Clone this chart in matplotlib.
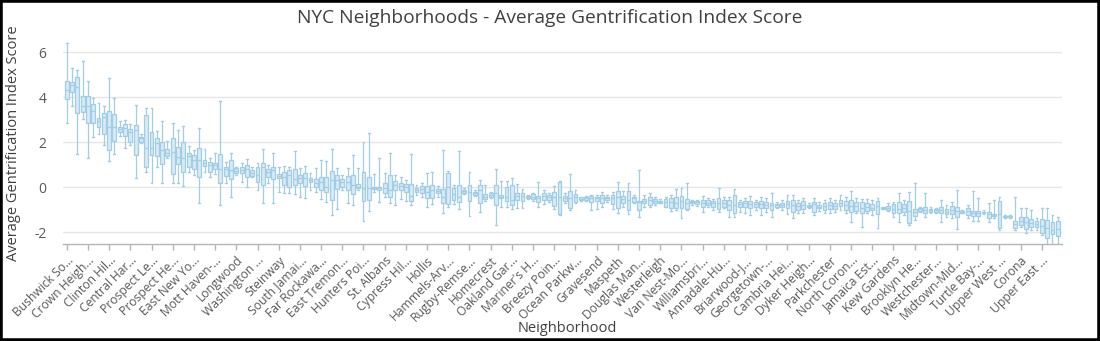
import matplotlib
matplotlib.use("Agg")
import matplotlib.pyplot as plt
from matplotlib.patches import Rectangle

plt.rcParams['font.family'] = ['Open Sans', 'DejaVu Sans']

# ---------------- data ----------------
tick_labels = ["Bushwick So...", "Crown Heigh...", "Clinton Hil...", "Central Har...",
               "Prospect Le...", "Prospect He...", "East New Yo...", "Mott Haven-...",
               "Longwood", "Washington ...", "Steinway", "South Jamai...", "Far Rockawa...",
               "East Tremon...", "Hunters Poi...", "St. Albans", "Cypress Hil...", "Hollis",
               "Hammels-Arv...", "Rugby-Remse...", "Homecrest", "Oakland Gar...",
               "Mariner's H...", "Breezy Poin...", "Ocean Parkw...", "Gravesend", "Maspeth",
               "Douglas Man...", "Westerleigh", "Van Nest-Mo...", "Williamsbri...",
               "Annadale-Hu...", "Briarwood-J...", "Georgetown-...", "Cambria Hei...",
               "Dyker Heigh...", "Parkchester", "North Coron...", "Jamaica Est...",
               "Kew Gardens", "Brooklyn He...", "Westchester...", "Midtown-Mid...",
               "Turtle Bay-...", "Upper West ...", "Corona", "Upper East ..."]

whisker_low = [
    2.87, 3.61, 1.47, 3.02, 1.32, 2.25, 2.37, 1.88, 1.17, 1.47,
    2.28, 1.73, 1.88, 0.40, 1.96, 0.70, 0.18, 0.89, 0.21, 1.30,
    0.21, 0.21, 0.06, 0.70, 0.55, -0.68, 0.70, 0.47, 0.59, -0.79,
    0.21, -0.41, 0.55, 0.25, 0.03, 0.47, -0.12, -0.68, 0.18, -0.71,
    -0.19, -0.27, -0.24, -0.30, -0.41, -0.49, -0.12, -0.19, -0.53, -0.64,
    -1.23, -0.98, -0.12, -0.68, -0.79, -0.12, -1.50, -1.04, -0.19, -0.64,
    -0.44, -0.71, -0.79, -0.53, -0.59, -0.79, -0.34, -0.44, -0.89, -0.74,
    -0.41, -1.16, -0.86, -0.74, -0.96, -0.30, -1.27, -0.39, -1.08, -0.59,
    -0.49, -1.67, -0.86, -0.86, -0.98, -0.93, -0.93, -0.53, -0.59, -0.86,
    -0.74, -0.64, -0.98, -1.25, -0.71, -1.01, -0.71, -0.59, -0.59, -1.01,
    -0.98, -0.86, -0.64, -0.98, -1.16, -0.86, -1.19, -0.68, -1.30, -0.86,
    -0.89, -0.79, -0.71, -0.89, -1.04, -1.01, -1.38, -1.01, -0.79, -0.83,
    -1.08, -0.86, -1.01, -1.08, -0.93, -1.33, -1.33, -1.08, -1.16, -1.23,
    -1.01, -1.23, -1.08, -1.33, -0.93, -1.01, -1.19, -1.38, -1.13, -1.16,
    -0.93, -1.23, -1.04, -1.16, -1.13, -1.10, -1.01, -1.16, -1.53, -1.16,
    -1.75, -1.16, -1.23, -1.82, -0.98, -1.05, -1.30, -1.53, -1.23, -1.67,
    -1.45, -1.08, -1.30, -1.16, -1.13, -1.53, -1.30, -1.38, -1.87, -1.16,
    -1.38, -1.48, -1.50, -1.20, -1.53, -1.38, -1.90, -1.35, -1.35, -1.90,
    -1.78, -2.01, -1.90, -1.90, -2.12, -2.52, -2.56, -2.56]

q1 = [
    3.91, 4.22, 3.32, 3.36, 2.87, 2.87, 2.70, 2.36, 1.66, 2.06,
    2.47, 2.28, 2.03, 1.44, 2.03, 0.89, 1.44, 1.39, 1.02, 1.39,
    0.59, 1.02, 0.70, 0.92, 0.80, 0.47, 0.95, 0.70, 0.80, 0.18,
    0.50, 0.36, 0.62, 0.62, 0.47, 0.50, 0.25, 0.10, 0.44, 0.36,
    0.40, 0.10, 0.03, 0.10, 0.21, 0.07, 0.25, 0.00, -0.12, -0.19,
    -0.56, -0.09, 0.03, -0.12, -0.30, -0.04, -0.59, -0.56, -0.09, -0.12,
    -0.27, -0.44, -0.12, -0.12, -0.19, -0.59, -0.19, -0.27, -0.49, -0.49,
    -0.27, -0.68, -0.76, -0.56, -0.64, -0.24, -0.59, -0.34, -0.68, -0.53,
    -0.41, -0.79, -0.49, -0.59, -0.79, -0.56, -0.59, -0.49, -0.53, -0.64,
    -0.56, -0.56, -0.83, -1.20, -0.59, -0.93, -0.64, -0.56, -0.56, -0.64,
    -0.59, -0.68, -0.56, -0.74, -0.93, -0.71, -1.01, -0.64, -1.01, -0.71,
    -0.79, -0.68, -0.68, -0.86, -0.93, -0.93, -0.93, -0.98, -0.71, -0.74,
    -0.86, -0.79, -0.86, -0.98, -0.86, -1.01, -1.16, -0.86, -0.89, -0.93,
    -0.89, -0.93, -0.93, -1.01, -0.86, -0.86, -0.93, -1.08, -1.01, -0.98,
    -0.86, -1.08, -0.93, -1.01, -0.98, -0.98, -0.83, -1.01, -1.11, -1.04,
    -1.16, -1.04, -1.01, -1.19, -0.96, -0.99, -1.16, -1.16, -1.08, -1.57,
    -1.26, -1.04, -1.13, -1.08, -1.08, -1.16, -1.19, -1.19, -1.30, -1.13,
    -1.23, -1.27, -1.27, -1.16, -1.38, -1.27, -1.82, -1.33, -1.33, -1.82,
    -1.67, -1.87, -1.75, -1.78, -2.01, -2.27, -2.07, -2.16]

median = [
    4.33, 4.55, 4.44, 3.61, 3.59, 3.39, 2.96, 3.11, 2.67, 2.67,
    2.59, 2.65, 2.44, 2.55, 2.18, 1.73, 1.73, 1.96, 1.66, 1.54,
    1.56, 1.36, 1.29, 1.39, 1.21, 1.21, 1.10, 0.99, 0.99, 0.80,
    0.80, 0.77, 0.74, 0.77, 0.80, 0.65, 0.55, 0.92, 0.70, 0.77,
    0.50, 0.45, 0.55, 0.36, 0.40, 0.40, 0.33, 0.21, 0.25, 0.03,
    0.33, 0.33, 0.25, 0.25, 0.10, 0.03, -0.04, -0.04, -0.01, -0.04,
    -0.04, -0.12, 0.10, 0.06, 0.00, -0.39, -0.12, -0.09, -0.19, -0.12,
    -0.18, -0.41, 0.00, -0.30, -0.41, -0.18, -0.19, -0.27, -0.12, -0.41,
    -0.34, -0.24, -0.41, -0.44, -0.56, -0.39, -0.39, -0.44, -0.41, -0.49,
    -0.39, -0.44, -0.44, -0.44, -0.49, -0.49, -0.44, -0.50, -0.49, -0.49,
    -0.49, -0.49, -0.49, -0.49, -0.44, -0.53, -0.56, -0.49, -0.64, -0.61,
    -0.56, -0.59, -0.64, -0.64, -0.64, -0.71, -0.59, -0.71, -0.65, -0.67,
    -0.68, -0.68, -0.68, -0.68, -0.70, -0.79, -0.79, -0.74, -0.71, -0.74,
    -0.74, -0.74, -0.79, -0.79, -0.80, -0.77, -0.74, -0.79, -0.83, -0.79,
    -0.81, -0.74, -0.86, -0.83, -0.79, -0.85, -0.70, -0.80, -0.85, -0.85,
    -0.90, -0.88, -0.90, -0.85, -0.93, -0.93, -0.95, -0.95, -0.92, -1.05,
    -1.10, -0.98, -1.00, -1.02, -1.03, -1.00, -1.08, -1.00, -1.05, -1.09,
    -1.05, -1.15, -1.15, -1.12, -1.20, -1.23, -1.20, -1.30, -1.30, -1.65,
    -1.50, -1.55, -1.60, -1.62, -1.70, -1.80, -1.90, -1.85]

q3 = [
    4.70, 4.67, 4.92, 4.06, 4.07, 3.70, 3.07, 3.29, 3.39, 3.24,
    2.70, 2.81, 2.59, 2.77, 2.25, 3.21, 2.44, 2.18, 2.03, 1.69,
    2.18, 1.81, 2.03, 1.51, 1.44, 1.73, 1.19, 1.14, 1.07, 1.47,
    0.92, 1.19, 0.84, 0.92, 0.99, 0.77, 0.92, 1.07, 0.80, 0.92,
    0.59, 0.70, 0.77, 0.80, 0.55, 0.62, 0.40, 0.36, 0.47, 0.44,
    0.73, 0.55, 0.36, 0.50, 0.55, 0.13, 0.70, 0.47, 0.03, 0.03,
    0.18, 0.55, 0.28, 0.18, 0.13, 0.13, -0.04, 0.06, 0.06, 0.10,
    -0.09, -0.07, 0.65, -0.01, 0.10, -0.12, 0.10, -0.19, 0.10, -0.30,
    -0.27, 0.10, -0.34, 0.00, 0.09, -0.27, -0.27, -0.39, -0.31, -0.39,
    -0.27, -0.34, -0.19, 0.25, -0.39, -0.16, -0.31, -0.44, -0.44, -0.39,
    -0.41, -0.34, -0.41, -0.34, -0.16, -0.39, -0.16, -0.41, -0.59, -0.53,
    -0.41, -0.53, -0.59, -0.53, -0.49, -0.44, -0.39, -0.53, -0.59, -0.61,
    -0.56, -0.56, -0.59, -0.49, -0.56, -0.56, -0.34, -0.64, -0.59, -0.61,
    -0.64, -0.59, -0.64, -0.68, -0.74, -0.68, -0.61, -0.56, -0.68, -0.59,
    -0.77, -0.64, -0.79, -0.68, -0.64, -0.71, -0.56, -0.59, -0.56, -0.64,
    -0.64, -0.71, -0.74, -0.61, -0.89, -0.84, -0.74, -0.64, -0.74, -0.59,
    -0.98, -0.93, -0.89, -0.96, -0.98, -0.89, -0.98, -0.83, -0.86, -1.05,
    -0.90, -1.04, -1.05, -1.08, -1.08, -1.19, -0.59, -1.27, -1.27, -1.50,
    -1.30, -1.30, -1.41, -1.48, -1.42, -1.45, -1.53, -1.50]

whisker_high = [
    6.40, 5.29, 5.21, 5.59, 4.73, 3.96, 3.76, 3.61, 4.87, 3.96,
    2.96, 2.99, 2.80, 3.66, 2.36, 3.54, 3.51, 2.52, 2.95, 2.06,
    2.84, 2.55, 2.74, 1.85, 1.66, 2.62, 1.69, 1.32, 1.51, 3.85,
    1.14, 1.54, 0.92, 1.07, 1.24, 0.92, 1.10, 1.70, 0.99, 1.51,
    0.92, 0.95, 0.89, 1.59, 0.84, 0.95, 0.62, 0.84, 1.19, 1.17,
    1.69, 0.84, 0.55, 0.87, 1.44, 0.84, 1.99, 2.43, 0.58, 1.29,
    0.62, 1.51, 0.55, 0.47, 0.33, 1.48, 0.10, 0.21, 0.62, 0.67,
    0.06, 1.66, 0.72, 0.10, 1.59, -0.04, 0.67, -0.12, 0.33, 0.10,
    -0.19, 0.80, 0.28, 0.28, 0.43, 0.15, -0.07, -0.34, -0.27, 0.25,
    -0.12, -0.27, 0.06, 0.30, -0.27, 0.58, -0.12, -0.41, -0.39, -0.34,
    -0.34, -0.19, -0.34, -0.19, 0.25, -0.15, 0.21, -0.34, 0.77, -0.34,
    -0.27, -0.44, -0.53, -0.44, -0.34, -0.09, -0.04, 0.18, -0.56, -0.56,
    -0.39, -0.49, -0.53, -0.04, -0.41, -0.41, -0.09, -0.56, -0.49, -0.39,
    -0.56, -0.44, -0.49, -0.24, -0.64, -0.56, -0.34, -0.34, -0.56, -0.49,
    -0.68, -0.49, -0.64, -0.56, -0.49, -0.55, -0.34, -0.41, -0.15, -0.49,
    -0.52, -0.53, -0.56, -0.49, -0.86, -0.72, -0.64, -0.27, -0.56, -0.19,
    0.18, -0.86, -0.27, -0.89, -0.92, -0.56, -0.79, -0.64, -0.12, -1.01,
    -0.79, -0.15, -0.49, -1.03, -0.71, -0.56, -0.41, -1.25, -1.25, -0.44,
    -0.93, -0.93, -1.01, -1.38, -0.93, -0.93, -1.23, -1.30]

# ---------------- drawing ----------------
FACE = "#d7eaf5"
EDGE = "#a3cde4"
TXT = "#595959"

n = len(median)
positions = list(range(n))
stats = [dict(whislo=whisker_low[i], q1=q1[i], med=median[i], q3=q3[i],
              whishi=whisker_high[i], fliers=[]) for i in range(n)]

fig = plt.figure(figsize=(11, 3.41), dpi=100)
W, H = 1100, 341
ax = fig.add_axes([63 / W, 1 - 244 / H, (1062 - 63) / W, (244 - 34) / H])

ax.bxp(stats, positions=positions, widths=0.72, patch_artist=True,
       showfliers=False, capwidths=0.35,
       boxprops=dict(facecolor=FACE, edgecolor=EDGE, linewidth=0.9),
       whiskerprops=dict(color=EDGE, linewidth=0.9),
       capprops=dict(color=EDGE, linewidth=0.9),
       medianprops=dict(color=EDGE, linewidth=0.9))

ax.set_xlim(-0.7, n - 0.2)
ax.set_ylim(-2.52, 6.81)

ax.set_yticks([-2, 0, 2, 4, 6])
ax.set_yticklabels(["-2", "0", "2", "4", "6"])
ax.yaxis.grid(True, color="#e6e6e6", linewidth=1.0)
ax.xaxis.grid(False)
ax.set_axisbelow(True)

tick_pos = positions[::4][:len(tick_labels)]
ax.set_xticks(tick_pos)
ax.set_xticklabels(tick_labels, rotation=45, ha="right", rotation_mode="anchor",
                   fontsize=8.7, color=TXT)
ax.tick_params(axis="x", length=4, color="#b5b5b5", width=1, pad=3)
ax.tick_params(axis="y", length=0, labelsize=10, labelcolor=TXT, pad=12)

for s in ["top", "right", "left"]:
    ax.spines[s].set_visible(False)
ax.spines["bottom"].set_color("#b5b5b5")
ax.spines["bottom"].set_linewidth(1)

fig.text(0.5, 1 - 18 / H, "NYC Neighborhoods - Average Gentrification Index Score",
         ha="center", va="center", fontsize=13.8, color="#404040")
fig.text(14 / W, 1 - 143 / H, "Average Gentrification Index Score", rotation=90,
         ha="center", va="center", fontsize=10.5, color="#404040")
fig.text(567 / W, 1 - 328 / H, "Neighborhood", ha="center", va="center",
         fontsize=10.5, color="#404040")

fig.add_artist(Rectangle((0, 0), 1, 1, transform=fig.transFigure, fill=False,
                         edgecolor="black", linewidth=4))

fig.savefig("out.png", dpi=100, facecolor="white")
